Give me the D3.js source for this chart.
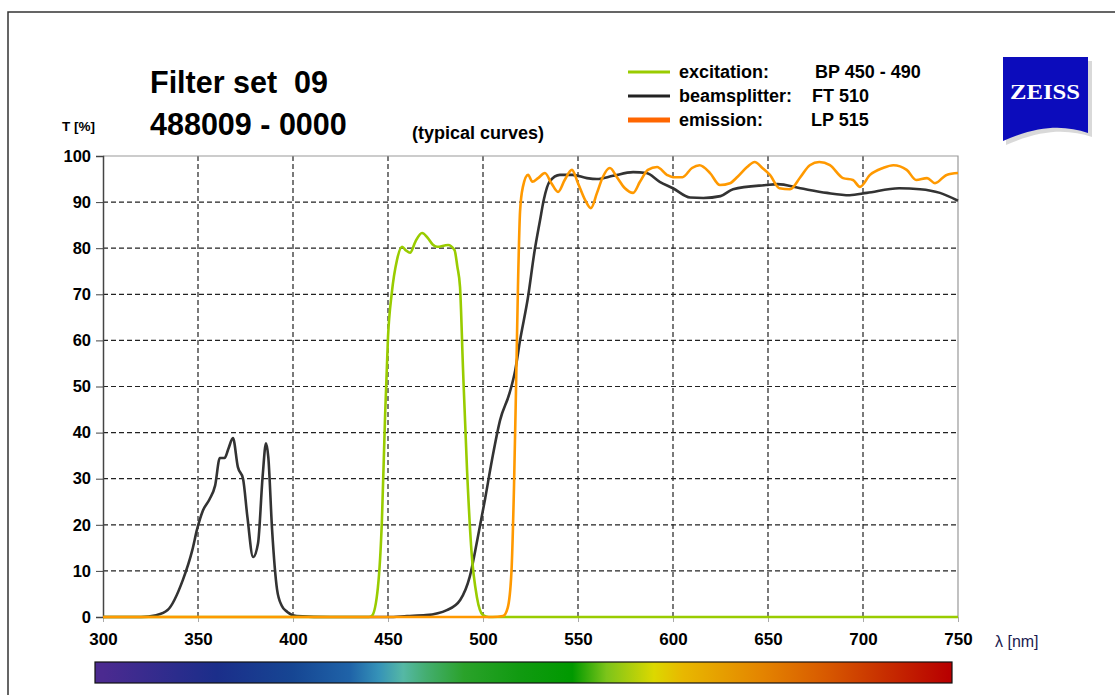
<!DOCTYPE html>
<html>
<head>
<meta charset="utf-8">
<script src="https://cdn.jsdelivr.net/npm/d3@7"></script>
<style>
  body { margin: 0; background: #fff; }
  svg { font-family: "Liberation Sans", Arial, sans-serif; }
</style>
</head>
<body>
<svg width="1115" height="695"></svg>
<script>
// wavelength [nm] / transmission [%]
var beamNm = [300,320,328,334,342,347,349.5,352.5,356,359,361.5,364,366,368.4,371,373.7,376,379,381.6,384,385.8,387,389,391.6,394,397,402,420,450,460,470,481,488,493,497,501,504.7,509,514,517,519.5,523.7,527,530,532,535,540.5,547,554.7,560,568.4,579,586,593,600,609,616,625,631.6,649,655,667,681,693,702,719,730,740.5,750];
var beamT  = [0,0,0.4,1.5,8,14.5,19,23,25.5,28.5,34.5,34.5,36.5,38.8,32.5,30,21.7,13,16,30.4,37.7,34.7,18.9,6,2.5,1.1,0.2,0,0,0.2,0.4,1.5,3.7,8.7,16.7,25.4,34,42.7,48.6,53.6,60,69.4,79,86,90.5,94.4,95.9,95.9,95.2,95,95.7,96.5,96.3,94.4,93,91,90.9,91.3,92.8,93.7,93.9,93,92,91.5,92,93,92.8,92,90.3];

var excNm = [300,440,441.6,444.7,446.8,448.4,450,452,454.7,457.4,459.5,461.6,464.5,467.9,471,473.5,475.8,481.6,485,486.5,487.9,489.5,491.6,494,496.8,500,503,750];
var excT  = [0,0,0.3,6.5,21,42.7,60.7,70.3,77.4,80.3,79.5,79,81.5,83.3,82.2,80.8,80.3,80.7,79.6,76,71.6,53.6,31.9,13.9,4.3,0.4,0,0];

var emNm = [300,505,510.5,513,515,516.3,517.4,518.4,519.5,521,523.7,526,529,532.6,536,539.5,543,546.8,550,553.7,556.8,560,563,566.8,570.5,574.7,579,582.6,586.8,591.6,596.8,600,605,610,614,619.5,624.7,630,634,639,643,647,651,656,661.6,667,672,677,682.6,689.5,694.7,698.4,703.7,710.5,716,723,728,733.7,737.9,744,750];
var emT  = [0,0,0.2,2,10,28,50,71.6,88,93.3,95.9,94.4,95.2,96.3,94.1,92.2,94.8,97,94.1,90.5,88.7,92,95.4,97.4,95.4,93,92,94.4,97,97.6,95.9,95.4,95.4,97.4,98,96.3,93.7,94.1,95.5,97.6,98.7,97.4,95.9,93,92.8,95.4,98,98.7,98,95.2,94.8,93.3,95.9,97.4,98,97,94.8,95.2,94.1,95.9,96.3];

var xTicks = [300,350,400,450,500,550,600,650,700,750];
var yTicks = [0,10,20,30,40,50,60,70,80,90,100];

var legendNames = ["excitation:", "beamsplitter:", "emission:"];
var legendCodes = ["BP 450 - 490", "FT 510", "LP 515"];
var legendColors = ["#99cc00", "#222222", "#ff6600"];

// spectrum bar colour stops
var specNm  = [300,340,360,400,430,445,458,470,490,520,547,565,590,605,647,680,710,745];
var specCol = ["#4b2a90","#2a2c8c","#1b2e8a","#164693","#1f63a8","#3592b8","#55b8a5","#44ae70","#2aa22a","#109a10","#009900","#7cc41a","#dcd800","#e8b800","#e48400","#d85a00","#c83000","#b80000"];

var svg = d3.select("svg");

// outer frame
svg.append("path").attr("d", "M8,695 L8,12 L1115,12")
  .attr("fill", "none").attr("stroke", "#333").attr("stroke-width", 1.5);

var x = d3.scaleLinear().domain([300, 750]).range([103, 958]);
var y = d3.scaleLinear().domain([0, 100]).range([617, 156]);

// grid
var grid = svg.append("g");
grid.selectAll("line.h").data(yTicks.filter(d => d > 0 && d < 100)).enter().append("line")
  .attr("x1", x(300)).attr("x2", x(750)).attr("y1", d => y(d)).attr("y2", d => y(d))
  .attr("stroke", "#222").attr("stroke-width", 1.2).attr("stroke-dasharray", "5,3");
grid.selectAll("line.v").data(xTicks.filter(d => d > 300 && d < 750)).enter().append("line")
  .attr("y1", y(0)).attr("y2", y(100)).attr("x1", d => x(d)).attr("x2", d => x(d))
  .attr("stroke", "#222").attr("stroke-width", 1.2).attr("stroke-dasharray", "5,3");

// plot border (top/right grey)
svg.append("path").attr("d", "M" + x(300) + "," + y(100) + "L" + x(750) + "," + y(100) + "L" + x(750) + "," + y(0))
  .attr("fill", "none").attr("stroke", "#999").attr("stroke-width", 1.2);

// y axis
var yAxis = svg.append("g").attr("transform", "translate(" + x(300) + ",0)")
  .call(d3.axisLeft(y).tickValues(yTicks).tickSize(7).tickPadding(5));
yAxis.attr("font-family", null);
yAxis.select(".domain").attr("stroke", "#444").attr("stroke-width", 1.5);
yAxis.selectAll(".tick line").attr("stroke", "#444");
yAxis.selectAll("text").attr("font-size", 16.5).attr("font-weight", "bold").attr("fill", "#000");

// x axis
var xAxis = svg.append("g").attr("transform", "translate(0," + y(0) + ")")
  .call(d3.axisBottom(x).tickValues(xTicks).tickSize(5).tickPadding(11));
xAxis.attr("font-family", null);
xAxis.select(".domain").attr("stroke", "#aaa");
xAxis.selectAll(".tick line").attr("stroke", "#aaa");
xAxis.selectAll("text").attr("font-size", 17).attr("font-weight", "bold").attr("fill", "#000");

// curves
var line = d3.line().x(d => x(d[0])).y(d => y(d[1])).curve(d3.curveMonotoneX);
function draw(nm, t, col) {
  svg.append("path").datum(nm.map((d, i) => [d, t[i]]))
    .attr("d", line).attr("fill", "none").attr("stroke", col)
    .attr("stroke-width", 2.6).attr("stroke-linejoin", "round");
}
draw(beamNm, beamT, "#333333");
draw(excNm, excT, "#99cc00");
draw(emNm, emT, "#ff9900");

// axis titles
svg.append("text").attr("x", 62).attr("y", 131).attr("font-size", 13.5).attr("font-weight", "bold").text("T [%]");
svg.append("text").attr("x", 995).attr("y", 647).attr("font-size", 16).attr("fill", "#1a1a50").text("λ [nm]");

// titles
svg.append("text").attr("x", 150).attr("y", 93).attr("font-size", 30.5).attr("font-weight", "bold")
  .style("white-space", "pre").text("Filter set  09");
svg.append("text").attr("x", 150).attr("y", 135).attr("font-size", 30.5).attr("font-weight", "bold").text("488009 - 0000");
svg.append("text").attr("x", 412).attr("y", 139).attr("font-size", 18).attr("font-weight", "bold").text("(typical curves)");

// legend
var leg = svg.append("g").selectAll("g").data(legendNames).enter().append("g")
  .attr("transform", (d, i) => "translate(0," + (72 + i * 24) + ")");
leg.append("line").attr("x1", 628).attr("x2", 670).attr("y1", 0).attr("y2", 0)
  .attr("stroke", (d, i) => legendColors[i]).attr("stroke-width", (d, i) => i === 2 ? 5 : 3);
leg.append("text").attr("x", 679).attr("y", 6).attr("font-size", 18).attr("font-weight", "bold").text(d => d);
leg.append("text").attr("x", (d, i) => [815, 812, 811][i]).attr("y", 6).attr("font-size", 18).attr("font-weight", "bold")
  .text((d, i) => legendCodes[i]);

// ZEISS logo
var logo = svg.append("g");
logo.append("path").attr("d", "M1006,61 L1092,61 L1092,137 C1070,130 1045,128 1006,145 Z")
  .attr("fill", "#cfcfcf").attr("opacity", 0.8);
logo.append("path").attr("d", "M1003,57 L1088,57 L1088,133 C1066,126 1042,124 1003,141 Z").attr("fill", "#0c0cbc");
logo.append("text").attr("x", 1045).attr("y", 99).attr("text-anchor", "middle").attr("fill", "#fff")
  .style("font-family", "'Liberation Serif', 'DejaVu Serif', serif").attr("font-weight", "bold")
  .attr("font-size", 20).attr("textLength", 70).attr("lengthAdjust", "spacingAndGlyphs").text("ZEISS");

// spectrum bar
var grad = svg.append("defs").append("linearGradient").attr("id", "spec")
  .attr("x1", "0%").attr("x2", "100%").attr("y1", "0%").attr("y2", "0%");
var bar0 = 95, bar1 = 952;
grad.selectAll("stop").data(specNm).enter().append("stop")
  .attr("offset", d => ((x(d) - bar0) / (bar1 - bar0) * 100) + "%")
  .attr("stop-color", (d, i) => specCol[i]);
svg.append("rect").attr("x", bar0).attr("y", 662).attr("width", bar1 - bar0).attr("height", 21)
  .attr("fill", "url(#spec)").attr("stroke", "#111").attr("stroke-width", 1.2);
</script>
</body>
</html>
